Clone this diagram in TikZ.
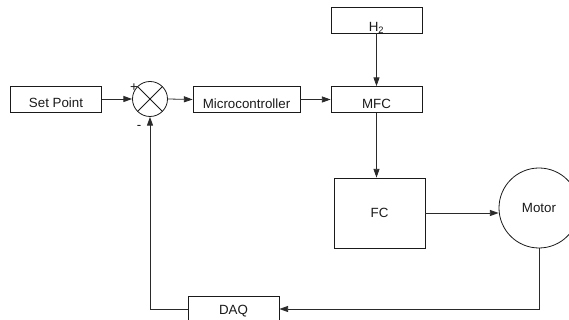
\documentclass[tikz,border=0pt]{standalone}
\usepackage{fontspec}
\setmainfont{Liberation Sans}
\usetikzlibrary{arrows.meta,calc}
\definecolor{ink}{HTML}{1A1A1A}
\definecolor{wire}{HTML}{2A2A2A}

\begin{document}
\begin{tikzpicture}[x=0.75pt,y=-0.75pt,>={Triangle[length=6.5pt,width=4.5pt]},font=\fontsize{10}{12}\selectfont,
block/.style={draw=ink,line width=0.6pt,minimum width=68.25pt,minimum height=19.5pt,inner sep=0pt,text height=13.5pt,text depth=0pt,text=ink},
junction/.style={circle,draw=ink,line width=0.6pt,minimum size=26.25pt,inner sep=0pt,path picture={\draw[ink,line width=0.6pt] (path picture bounding box.north west)--(path picture bounding box.south east) (path picture bounding box.north east)--(path picture bounding box.south west);}},
signal/.style={->,draw=wire,line width=0.6pt},
sign/.style={inner sep=0pt,font=\fontsize{10}{12}\selectfont,text=ink}]
\useasboundingbox (0,0) rectangle (569,320);
\node[block] (setpoint) at (56,99) {Set Point};
\node[junction] (sum) at (150,99) {};
\node[block,minimum width=80.25pt] (micro) at (246.5,99.5) {Microcontroller};
\node[block] (mfc) at (376.5,99.5) {MFC};
\node[block,text height=17pt] (htwo) at (376.5,20) {H\textsubscript{2}};
\node[block,minimum height=52.5pt,text height=7.2pt] (fc) at (379.5,213) {FC};
\node[circle,draw=ink,line width=0.6pt,minimum size=60pt,inner sep=0pt,text=ink] (motor) at (539,208) {Motor};
\node[block,text height=8pt] (daq) at (233.5,309) {DAQ};
\node[sign] (plus) at (134,88) {+};
\node[sign] (minus) at (139,127) {-};
\draw[signal] (setpoint.east)--(sum.west);
\draw[signal] (sum.east)--(micro.west);
\draw[signal] (micro.east)--(mfc.west);
\draw[signal] (htwo.south)--(mfc.north);
\draw[signal] (mfc.south)--(mfc.south |- fc.north);
\draw[signal] (fc.east)--(fc.east -| motor.west);
\draw[signal] (motor.south)|-(daq.east);
\draw[signal] (daq.west)-|(sum.south);
\end{tikzpicture}
\end{document}
